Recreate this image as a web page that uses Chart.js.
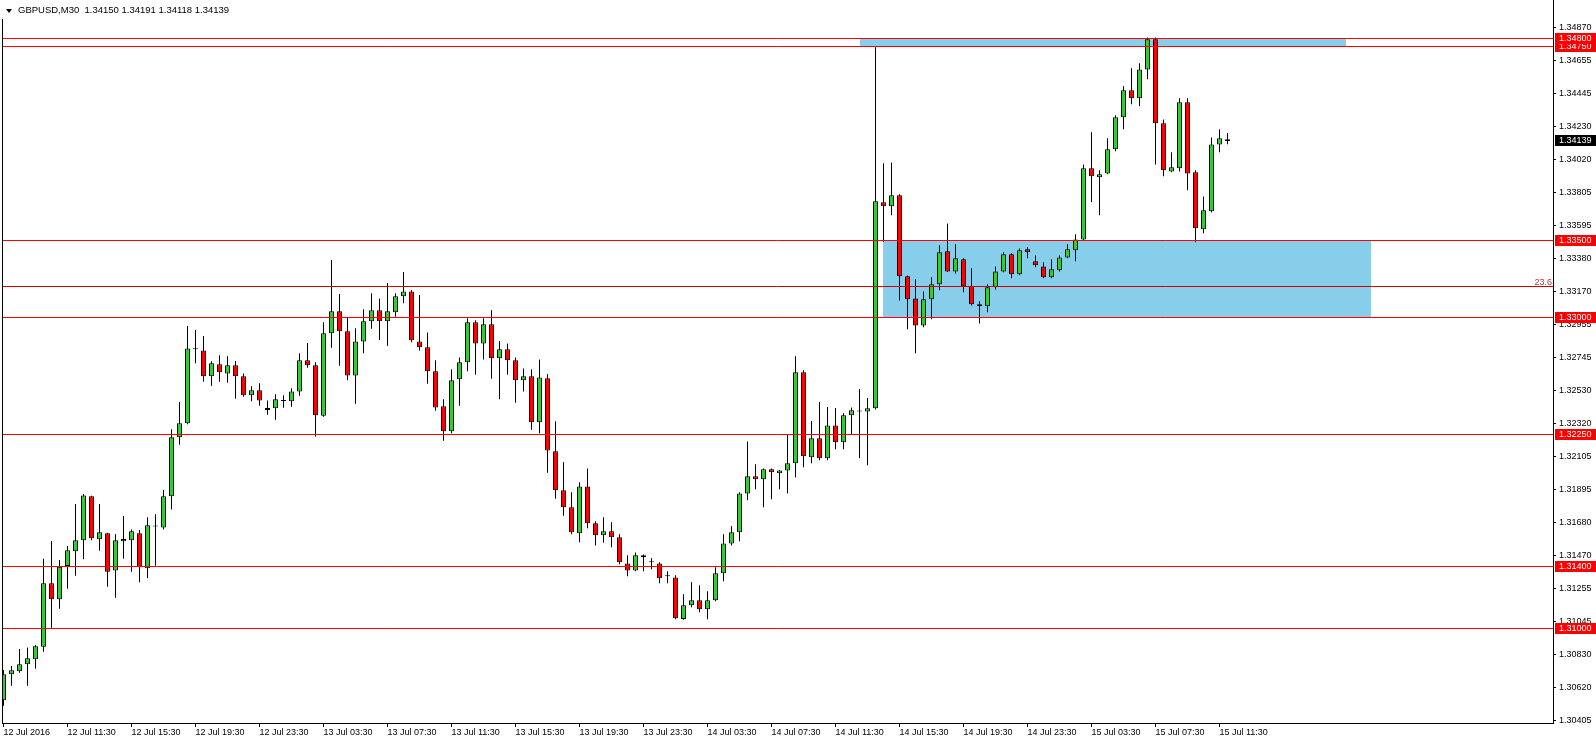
<!DOCTYPE html>
<html>
<head>
<meta charset="utf-8">
<title>GBPUSD,M30</title>
<script src="https://cdn.jsdelivr.net/npm/chart.js@4.4.1/dist/chart.umd.min.js"></script>
<style>
  html, body { margin: 0; padding: 0; background: #fff; }
  #wrap { width: 1596px; height: 744px; }
</style>
</head>
<body>
<div id="wrap"><canvas id="GBPUSD" width="1596" height="744"></canvas></div>
<script>
var symbolTitle = "GBPUSD,M30";

// one label every 8 bars (4 hours of M30)
var labelEvery = 8;
var timeLabels = [
  "12 Jul 2016", "12 Jul 11:30", "12 Jul 15:30", "12 Jul 19:30", "12 Jul 23:30",
  "13 Jul 03:30", "13 Jul 07:30", "13 Jul 11:30", "13 Jul 15:30", "13 Jul 19:30",
  "13 Jul 23:30", "14 Jul 03:30", "14 Jul 07:30", "14 Jul 11:30", "14 Jul 15:30",
  "14 Jul 19:30", "14 Jul 23:30", "15 Jul 03:30", "15 Jul 07:30", "15 Jul 11:30",
];

var priceTicks = [
  1.34870, 1.34655, 1.34445, 1.34230, 1.34020, 1.33805, 1.33595, 1.33380,
  1.33170, 1.32955, 1.32745, 1.32530, 1.32320, 1.32105, 1.31895, 1.31680,
  1.31470, 1.31255, 1.31045, 1.30830, 1.30620, 1.30405,
];

var open = [
  1.30536, 1.30704, 1.30723, 1.30768, 1.30800, 1.30881, 1.31290, 1.31187, 1.31401, 1.31496,
  1.31567, 1.31850, 1.31573, 1.31612, 1.31373, 1.31560, 1.31567, 1.31612, 1.31386, 1.31656,
  1.31650, 1.31850, 1.32230, 1.32320, 1.32800, 1.32790, 1.32623, 1.32700, 1.32642, 1.32694,
  1.32623, 1.32501, 1.32533, 1.32406, 1.32417, 1.32464, 1.32462, 1.32526, 1.32726, 1.32694,
  1.32369, 1.32900, 1.33042, 1.32913, 1.32629, 1.32848, 1.32977, 1.33048, 1.32977, 1.33035,
  1.33138, 1.33170, 1.32848, 1.32810, 1.32655, 1.32430, 1.32269, 1.32604, 1.32713, 1.32971,
  1.32835, 1.32958, 1.32739, 1.32797, 1.32726, 1.32597, 1.32623, 1.32327, 1.32610, 1.32140,
  1.31889, 1.31779, 1.31612, 1.31914, 1.31676, 1.31599, 1.31625, 1.31586, 1.31418, 1.31373,
  1.31470, 1.31425, 1.31418, 1.31335, 1.31328, 1.31060, 1.31148, 1.31180, 1.31122, 1.31180,
  1.31354, 1.31547, 1.31618, 1.31869, 1.31979, 1.31960, 1.32024, 1.31998, 1.32017, 1.32063,
  1.32649, 1.32101, 1.32224, 1.32095, 1.32307, 1.32198, 1.32372, 1.32400, 1.32397, 1.32417,
  1.33744, 1.33718, 1.33789, 1.33267, 1.33125, 1.32951, 1.33119, 1.33216, 1.33428, 1.33299,
  1.33377, 1.33203, 1.33087, 1.33074, 1.33196, 1.33299, 1.33409, 1.33280, 1.33441, 1.33364,
  1.33331, 1.33261, 1.33306, 1.33389, 1.33435, 1.33505, 1.33963, 1.33905, 1.33930, 1.34085,
  1.34291, 1.34465, 1.34414, 1.34600, 1.34794, 1.34253, 1.33943, 1.33963, 1.34388, 1.33937,
  1.33570, 1.33686, 1.34117, 1.34150,
];
var high = [
  1.30731, 1.30757, 1.30866, 1.30877, 1.30892, 1.31448, 1.31562, 1.31440, 1.31530, 1.31800,
  1.31865, 1.31854, 1.31800, 1.31615, 1.31605, 1.31723, 1.31637, 1.31633, 1.31715, 1.31734,
  1.31891, 1.32282, 1.32457, 1.32947, 1.32921, 1.32883, 1.32720, 1.32758, 1.32752, 1.32721,
  1.32642, 1.32559, 1.32578, 1.32468, 1.32507, 1.32501, 1.32546, 1.32771, 1.32837, 1.32713,
  1.32971, 1.33372, 1.33153, 1.33000, 1.32932, 1.33055, 1.33158, 1.33125, 1.33224, 1.33158,
  1.33295, 1.33179, 1.33147, 1.32906, 1.32726, 1.32475, 1.32668, 1.32745, 1.32997, 1.32984,
  1.32997, 1.33048, 1.32850, 1.32835, 1.32745, 1.32674, 1.32668, 1.32732, 1.32636, 1.32333,
  1.32069, 1.31876, 1.31940, 1.32030, 1.31689, 1.31715, 1.31683, 1.31605, 1.31470, 1.31489,
  1.31476, 1.31451, 1.31425, 1.31367, 1.31341, 1.31219, 1.31296, 1.31277, 1.31238, 1.31393,
  1.31605, 1.31657, 1.31876, 1.32204, 1.32056, 1.32030, 1.32030, 1.32020, 1.32249, 1.32752,
  1.32662, 1.32335, 1.32457, 1.32425, 1.32419, 1.32385, 1.32423, 1.32541, 1.32483, 1.34742,
  1.33995, 1.34001, 1.33795, 1.33273, 1.33248, 1.33170, 1.33261, 1.33467, 1.33608, 1.33473,
  1.33383, 1.33319, 1.33106, 1.33216, 1.33331, 1.33422, 1.33415, 1.33447, 1.33454, 1.33402,
  1.33357, 1.33377, 1.33402, 1.33473, 1.33538, 1.33988, 1.34195, 1.33950, 1.34156, 1.34304,
  1.34491, 1.34607, 1.34639, 1.34806, 1.34806, 1.34278, 1.34066, 1.34414, 1.34414, 1.33950,
  1.33782, 1.34162, 1.34214, 1.34191,
];
var low = [
  1.30501, 1.30630, 1.30714, 1.30630, 1.30740, 1.30849, 1.31004, 1.31126, 1.31255, 1.31339,
  1.31444, 1.31567, 1.31500, 1.31268, 1.31197, 1.31448, 1.31364, 1.31296, 1.31322, 1.31403,
  1.31637, 1.31766, 1.32182, 1.32315, 1.32707, 1.32588, 1.32562, 1.32588, 1.32582, 1.32479,
  1.32492, 1.32462, 1.32434, 1.32376, 1.32343, 1.32421, 1.32427, 1.32498, 1.32678, 1.32234,
  1.32363, 1.32807, 1.32691, 1.32597, 1.32446, 1.32771, 1.32930, 1.32857, 1.32820, 1.33007,
  1.33093, 1.32842, 1.32790, 1.32575, 1.32401, 1.32208, 1.32256, 1.32434, 1.32655, 1.32633,
  1.32732, 1.32607, 1.32475, 1.32633, 1.32453, 1.32526, 1.32279, 1.32256, 1.32002, 1.31835,
  1.31725, 1.31605, 1.31554, 1.31644, 1.31534, 1.31551, 1.31522, 1.31412, 1.31335, 1.31367,
  1.31367, 1.31380, 1.31290, 1.31290, 1.31058, 1.31055, 1.31135, 1.31103, 1.31058, 1.31175,
  1.31303, 1.31534, 1.31560, 1.31824, 1.31895, 1.31779, 1.31831, 1.31895, 1.31869, 1.31972,
  1.32037, 1.32063, 1.32082, 1.32082, 1.32153, 1.32153, 1.32249, 1.32095, 1.32050, 1.32410,
  1.33490, 1.33660, 1.33112, 1.32926, 1.32771, 1.32939, 1.32990, 1.33177, 1.33295, 1.33286,
  1.33164, 1.33080, 1.32964, 1.33035, 1.33183, 1.33293, 1.33254, 1.33274, 1.33383, 1.33325,
  1.33254, 1.33254, 1.33299, 1.33383, 1.33364, 1.33500, 1.33744, 1.33660, 1.33924, 1.34072,
  1.34214, 1.34375, 1.34362, 1.34536, 1.33988, 1.33911, 1.33937, 1.33943, 1.33821, 1.33486,
  1.33544, 1.33679, 1.34066, 1.34118,
];
var close = [
  1.30704, 1.30729, 1.30768, 1.30807, 1.30884, 1.31290, 1.31187, 1.31397, 1.31502, 1.31567,
  1.31856, 1.31580, 1.31618, 1.31364, 1.31567, 1.31575, 1.31625, 1.31393, 1.31663, 1.31658,
  1.31850, 1.32230, 1.32320, 1.32803, 1.32798, 1.32623, 1.32707, 1.32649, 1.32694, 1.32623,
  1.32501, 1.32533, 1.32468, 1.32419, 1.32475, 1.32466, 1.32526, 1.32726, 1.32694, 1.32372,
  1.32900, 1.33042, 1.32913, 1.32629, 1.32848, 1.32977, 1.33048, 1.32977, 1.33042, 1.33138,
  1.33170, 1.32855, 1.32810, 1.32655, 1.32423, 1.32269, 1.32597, 1.32713, 1.32971, 1.32835,
  1.32958, 1.32739, 1.32797, 1.32726, 1.32597, 1.32623, 1.32327, 1.32616, 1.32146, 1.31889,
  1.31779, 1.31618, 1.31914, 1.31676, 1.31599, 1.31625, 1.31586, 1.31425, 1.31373, 1.31470,
  1.31457, 1.31425, 1.31322, 1.31335, 1.31064, 1.31148, 1.31180, 1.31122, 1.31180, 1.31354,
  1.31547, 1.31618, 1.31869, 1.31979, 1.31960, 1.32024, 1.32005, 1.32017, 1.32063, 1.32649,
  1.32108, 1.32224, 1.32095, 1.32307, 1.32198, 1.32372, 1.32404, 1.32397, 1.32417, 1.33750,
  1.33718, 1.33789, 1.33267, 1.33119, 1.32951, 1.33119, 1.33216, 1.33422, 1.33299, 1.33383,
  1.33203, 1.33087, 1.33074, 1.33196, 1.33299, 1.33409, 1.33280, 1.33435, 1.33422, 1.33338,
  1.33261, 1.33312, 1.33389, 1.33441, 1.33505, 1.33963, 1.33911, 1.33924, 1.34085, 1.34291,
  1.34465, 1.34414, 1.34600, 1.34794, 1.34253, 1.33950, 1.33969, 1.34388, 1.33930, 1.33576,
  1.33692, 1.34117, 1.34156, 1.34139,
];

// horizontal levels drawn on the chart
var levels = [1.34800, 1.34750, 1.33500, 1.33000, 1.32250, 1.31400, 1.31000];
var fibLevel = 1.33203;
var fibText = "23.6";

// rectangles, x in bar numbers
var zoneStart = [107.0, 109.9];
var zoneEnd = [167.8, 170.9];
var zoneTop = [1.34800, 1.33500];
var zoneBottom = [1.34750, 1.33000];

var FONT = '"Liberation Sans", Arial, sans-serif';

var bodies = [];
var wicks = [];
var bodyColors = [];
for (var i = 0; i < open.length; i++) {
  bodies.push({ x: i, y: [open[i], close[i]] });
  wicks.push({ x: i, y: [low[i], high[i]] });
  if (close[i] > open[i]) bodyColors.push("#32cd32");
  else if (close[i] < open[i]) bodyColors.push("#ff0000");
  else bodyColors.push("#000000");
}

var mt4Plugin = {
  id: "mt4",
  beforeDatasetsDraw: function (chart) {
    var ctx = chart.ctx, x = chart.scales.x, y = chart.scales.y;
    ctx.save();
    ctx.fillStyle = "#87ceeb";
    for (var k = 0; k < zoneStart.length; k++) {
      var x0 = Math.round(x.getPixelForValue(zoneStart[k]));
      var x1 = Math.round(x.getPixelForValue(zoneEnd[k]));
      var y0 = Math.round(y.getPixelForValue(zoneTop[k]));
      var y1 = Math.round(y.getPixelForValue(zoneBottom[k]));
      ctx.fillRect(x0, y0, x1 - x0, y1 - y0);
    }
    ctx.restore();
  },
  afterDatasetsDraw: function (chart) {
    var ctx = chart.ctx, a = chart.chartArea, y = chart.scales.y;
    ctx.save();
    ctx.lineWidth = 1;
    ctx.strokeStyle = "#ff0000";
    levels.forEach(function (v) {
      var py = Math.floor(y.getPixelForValue(v)) + 0.5;
      ctx.beginPath();
      ctx.moveTo(a.left, py);
      ctx.lineTo(a.right, py);
      ctx.stroke();
    });
    var fy = Math.floor(y.getPixelForValue(fibLevel)) + 0.5;
    ctx.strokeStyle = "#d00000";
    ctx.beginPath();
    ctx.moveTo(a.left, fy);
    ctx.lineTo(a.right, fy);
    ctx.stroke();
    ctx.fillStyle = "#b03a2e";
    ctx.font = "9px " + FONT;
    ctx.textAlign = "right";
    ctx.textBaseline = "alphabetic";
    ctx.fillText(fibText, a.right - 1, fy - 2);
    ctx.restore();
  },
  afterDraw: function (chart) {
    var ctx = chart.ctx, a = chart.chartArea, y = chart.scales.y;
    var W = chart.width;
    ctx.save();
    // left frame line
    ctx.strokeStyle = "#000";
    ctx.lineWidth = 1;
    ctx.beginPath();
    ctx.moveTo(a.left + 0.5, 19);
    ctx.lineTo(a.left + 0.5, a.bottom);
    ctx.stroke();

    // title
    ctx.fillStyle = "#000";
    ctx.beginPath();
    ctx.moveTo(6, 9);
    ctx.lineTo(12, 9);
    ctx.lineTo(9, 13);
    ctx.closePath();
    ctx.fill();
    var n = open.length - 1;
    var ohlc = [open[n], high[n], low[n], close[n]].map(function (v) { return v.toFixed(5); }).join(" ");
    ctx.font = "9.5px " + FONT;
    ctx.textAlign = "left";
    ctx.textBaseline = "middle";
    ctx.fillText(symbolTitle + "  " + ohlc, 18, 10);

    // price boxes on the axis
    ctx.font = "9px " + FONT;
    for (var k = levels.length - 1; k >= 0; k--) {
      var py = Math.floor(y.getPixelForValue(levels[k]));
      ctx.fillStyle = "#ff0000";
      ctx.fillRect(a.right + 2, py - 5, W - a.right - 2, 11);
      ctx.fillStyle = "#fff";
      ctx.fillText(levels[k].toFixed(5), a.right + 6, py + 0.5);
    }
    var last = close[n];
    var cy = Math.floor(y.getPixelForValue(last));
    ctx.fillStyle = "#000";
    ctx.fillRect(a.right + 2, cy - 5, W - a.right - 2, 11);
    ctx.fillStyle = "#fff";
    ctx.fillText(last.toFixed(5), a.right + 6, cy + 0.5);
    ctx.restore();
  },
};

var ctx = document.getElementById("GBPUSD").getContext("2d");
var myChart = new Chart(ctx, {
  type: "bar",
  data: {
    datasets: [
      {
        label: "body",
        data: bodies,
        backgroundColor: bodyColors,
        borderColor: "#000",
        borderWidth: 1,
        borderSkipped: false,
        barThickness: 5,
        minBarLength: 1,
        inflateAmount: 0,
        grouped: false,
        clip: 0,
        order: 0,
      },
      {
        label: "wick",
        data: wicks,
        backgroundColor: "#000",
        borderWidth: 0,
        barThickness: 1,
        inflateAmount: 0,
        grouped: false,
        clip: 0,
        order: 1,
      },
    ],
  },
  options: {
    responsive: false,
    animation: false,
    devicePixelRatio: 1,
    layout: { padding: { left: 2, top: 0, right: 0, bottom: 0 } },
    plugins: {
      legend: { display: false },
      tooltip: { enabled: false },
    },
    scales: {
      x: {
        type: "linear",
        offset: false,
        min: -0.1875,
        max: 193.6875,
        grid: { offset: false, drawOnChartArea: false, drawTicks: true, tickLength: 4, color: "#000" },
        border: { display: true, color: "#000" },
        ticks: {
          align: "start",
          maxRotation: 0,
          autoSkip: false,
          padding: 0,
          color: "#000",
          font: { family: FONT, size: 9 },
          callback: function (v, idx) { return timeLabels[idx]; },
        },
        afterBuildTicks: function (s) {
          s.ticks = timeLabels.map(function (t, k) { return { value: k * labelEvery }; });
        },
        afterFit: function (s) {
          s.height = 21;
          s.paddingLeft = 0;
          s.paddingRight = 0;
        },
      },
      y: {
        position: "right",
        min: 1.30390,
        max: 1.35047,
        grid: { drawOnChartArea: false, drawTicks: true, tickLength: 3, color: "#000" },
        border: { display: true, color: "#000" },
        ticks: {
          autoSkip: false,
          padding: 3,
          color: "#000",
          font: { family: FONT, size: 9 },
          callback: function (v) { return Number(v).toFixed(5); },
        },
        afterBuildTicks: function (s) {
          s.ticks = priceTicks.map(function (v) { return { value: v }; });
        },
        afterFit: function (s) {
          s.width = 43;
          s.paddingTop = 0;
          s.paddingBottom = 0;
        },
      },
    },
  },
  plugins: [mt4Plugin],
});
</script>
</body>
</html>
